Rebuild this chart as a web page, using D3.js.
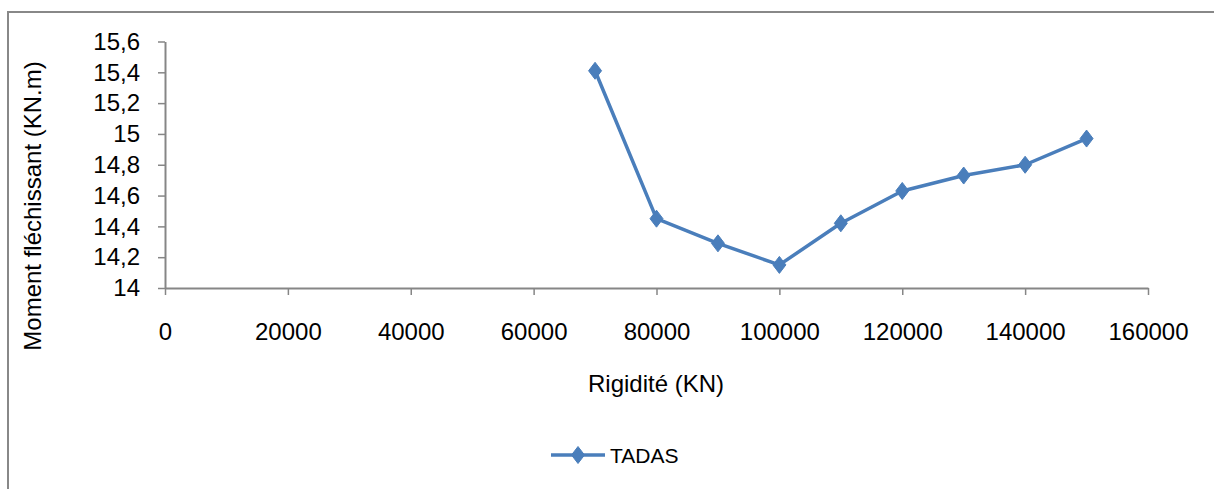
<!DOCTYPE html>
<html><head><meta charset="utf-8">
<script src="https://cdn.jsdelivr.net/npm/d3@7"></script>
<style>body{margin:0;background:#fff}svg{display:block;font-family:"Liberation Sans",Arial,sans-serif}</style>
</head><body>
<script>
const rigidite = [70000, 80000, 90000, 100000, 110000, 120000, 130000, 140000, 150000];
const moment = [15.41, 14.45, 14.29, 14.15, 14.42, 14.63, 14.73, 14.80, 14.97];
const seriesName = "TADAS";
const xTicks = [0, 20000, 40000, 60000, 80000, 100000, 120000, 140000, 160000];
const yTicks = [14, 14.2, 14.4, 14.6, 14.8, 15, 15.2, 15.4, 15.6];
const xTitle = "Rigidité (KN)";
const yTitle = "Moment fléchissant (KN.m)";

const W = 1214, H = 489;
const svg = d3.select("body").append("svg").attr("width", W).attr("height", H);
svg.append("rect").attr("x", 8).attr("y", 12).attr("width", W).attr("height", H)
  .attr("fill", "#fff").attr("stroke", "#888").attr("stroke-width", 2);

const x = d3.scaleLinear().domain([0, 160000]).range([165, 1148]);
const y = d3.scaleLinear().domain([14, 15.6]).range([288, 41.5]);
const axisColor = "#868686";

const gx = svg.append("g").attr("transform", `translate(0,${y(14)})`)
  .call(d3.axisBottom(x).tickValues(xTicks).tickSize(7).tickSizeOuter(0).tickPadding(28).tickFormat(d => String(d)));
const gy = svg.append("g").attr("transform", `translate(${x(0)},0)`)
  .call(d3.axisLeft(y).tickValues(yTicks).tickSize(7).tickSizeOuter(0).tickPadding(18).tickFormat(d => String(+d.toFixed(1)).replace(".", ",")));
[gx, gy].forEach(g => {
  g.select(".domain").attr("stroke", axisColor).attr("stroke-width", 2);
  g.selectAll(".tick line").attr("stroke", axisColor).attr("stroke-width", 1.5);
  g.selectAll(".tick text").attr("fill", "#000").style("font-size", "24px").style("font-family", '"Liberation Sans",Arial,sans-serif');
});

svg.append("text").attr("x", 656).attr("y", 392).attr("text-anchor", "middle")
  .style("font-size", "24px").attr("fill", "#000").text(xTitle);
svg.append("text").attr("transform", "translate(41,206) rotate(-90)").attr("text-anchor", "middle")
  .style("font-size", "24px").attr("fill", "#000").text(yTitle);

const color = "#4a7ebb";
const data = rigidite.map((r, i) => ({x: r, y: moment[i]}));
svg.append("path").datum(data)
  .attr("d", d3.line().x(d => x(d.x)).y(d => y(d.y)))
  .attr("fill", "none").attr("stroke", color).attr("stroke-width", 3.5).attr("stroke-linejoin", "round");
const diamond = "M0,-8.5L6.5,0L0,8.5L-6.5,0Z";
svg.selectAll(".pt").data(data).join("path").attr("class", "pt")
  .attr("transform", d => `translate(${x(d.x)},${y(d.y)})`)
  .attr("d", diamond).attr("fill", color).attr("stroke", color).attr("stroke-width", 1).attr("stroke-linejoin", "round");

const lg = svg.append("g").attr("transform", "translate(551,455)");
lg.append("line").attr("x1", 0).attr("x2", 54).attr("stroke", color).attr("stroke-width", 3.5);
lg.append("path").attr("transform", "translate(27,0)").attr("d", diamond).attr("fill", color).attr("stroke", color).attr("stroke-width", 1);
lg.append("text").attr("x", 59).attr("y", 8).style("font-size", "21px").attr("fill", "#000").text(seriesName);
</script>
</body></html>
